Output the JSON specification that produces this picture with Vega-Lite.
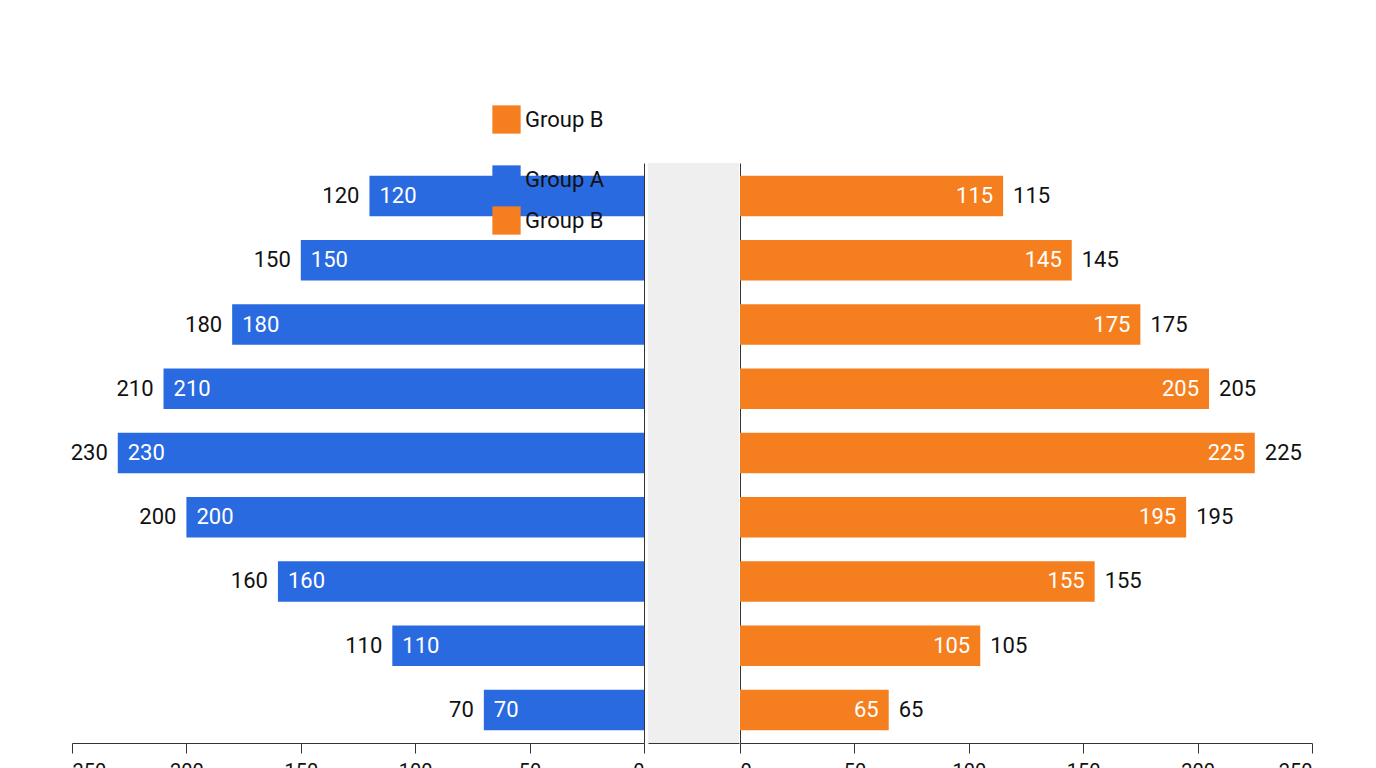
{
  "$schema": "https://vega.github.io/schema/vega-lite/v6.json",
  "background": "#ffffff",
  "padding": {"left": 70, "top": 105, "right": 60, "bottom": 10},
  "autosize": {"type": "pad"},
  "spacing": 0,
  "config": {
    "view": {"stroke": null},
    "font": "Roboto",
    "axis": {"labelFontSize": 20, "labelColor": "#111", "domainColor": "#333", "tickColor": "#333", "tickSize": 10, "grid": false, "labelPadding": 8, "labelFont": "Roboto"},
    "legend": {"labelFontSize": 22, "labelFont": "Roboto", "labelColor": "#111", "symbolType": "square", "symbolSize": 800, "symbolStrokeWidth": 0, "rowPadding": 12}
  },
  "data": {
    "values": [
      {"age": "80+", "a": 120, "b": 115},
      {"age": "70-79", "a": 150, "b": 145},
      {"age": "60-69", "a": 180, "b": 175},
      {"age": "50-59", "a": 210, "b": 205},
      {"age": "40-49", "a": 230, "b": 225},
      {"age": "30-39", "a": 200, "b": 195},
      {"age": "20-29", "a": 160, "b": 155},
      {"age": "10-19", "a": 110, "b": 105},
      {"age": "0-9", "a": 70, "b": 65}
    ]
  },
  "hconcat": [
    {
      "width": 572,
      "height": 580,
      "encoding": {
        "y": {"field": "age", "type": "nominal", "sort": ["80+", "70-79", "60-69", "50-59", "40-49", "30-39", "20-29", "10-19", "0-9"], "scale": {"paddingInner": 0.37, "paddingOuter": 0.2}, "axis": {"orient": "right", "labels": false, "ticks": false, "title": null}},
        "x": {"field": "a", "type": "quantitative", "scale": {"domain": [0, 250], "reverse": true}, "axis": {"values": [0, 50, 100, 150, 200, 250], "title": null}}
      },
      "layer": [
        {"mark": {"type": "bar", "color": "#2a6ae0"}},
        {"mark": {"type": "text", "align": "left", "dx": 10, "color": "#ffffff", "fontSize": 22}, "encoding": {"text": {"field": "a"}}},
        {"mark": {"type": "text", "align": "right", "dx": -10, "color": "#111", "fontSize": 22}, "encoding": {"text": {"field": "a"}}}
      ]
    },
    {
      "width": 91,
      "height": 580,
      "view": {"fill": "#efefef"},
      "layer": [
        {
          "mark": {"type": "text", "color": "#111", "fontSize": 22},
          "encoding": {
            "y": {"field": "age", "type": "nominal", "sort": ["80+", "70-79", "60-69", "50-59", "40-49", "30-39", "20-29", "10-19", "0-9"], "scale": {"paddingInner": 0.37, "paddingOuter": 0.2}, "axis": null}
          }
        },
        {
          "mark": {"type": "point", "opacity": 0},
          "encoding": {
            "x": {"datum": 0, "type": "quantitative", "scale": {"domain": [0, 1]}, "axis": {"labels": false, "ticks": false, "title": null}}
          }
        }
      ]
    },
    {
      "width": 572,
      "height": 580,
      "encoding": {
        "y": {"field": "age", "type": "nominal", "sort": ["80+", "70-79", "60-69", "50-59", "40-49", "30-39", "20-29", "10-19", "0-9"], "scale": {"paddingInner": 0.37, "paddingOuter": 0.2}, "axis": {"orient": "left", "labels": false, "ticks": false, "title": null}},
        "x": {"field": "b", "type": "quantitative", "scale": {"domain": [0, 250]}, "axis": {"values": [0, 50, 100, 150, 200, 250], "title": null}}
      },
      "layer": [
        {
          "mark": {"type": "bar"},
          "encoding": {
            "color": {"datum": "Group B", "type": "nominal", "scale": {"domain": ["Group A", "Group B"], "range": ["#2a6ae0", "#f57f1f"]}, "legend": {"title": null, "orient": "none", "legendX": 420, "legendY": 2}}
          }
        },
        {
          "mark": {"type": "point", "opacity": 0},
          "encoding": {
            "fill": {"datum": "Group B", "type": "nominal", "scale": {"domain": ["Group B"], "range": ["#f57f1f"]}, "legend": {"title": null, "orient": "none", "legendX": 420, "legendY": -58, "symbolOpacity": 1}}
          }
        },
        {"mark": {"type": "text", "align": "right", "dx": -10, "color": "#ffffff", "fontSize": 22}, "encoding": {"text": {"field": "b"}}},
        {"mark": {"type": "text", "align": "left", "dx": 10, "color": "#111", "fontSize": 22}, "encoding": {"text": {"field": "b"}}}
      ]
    }
  ]
}
